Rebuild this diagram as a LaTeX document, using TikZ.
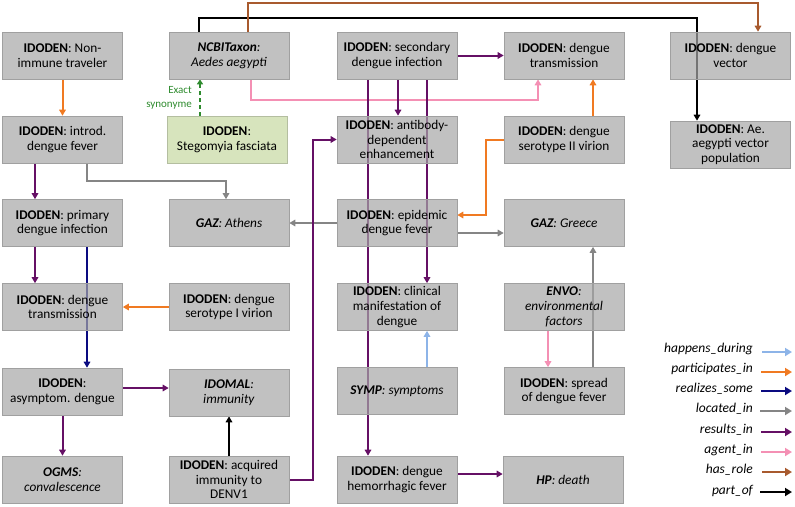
\documentclass[tikz,border=0pt]{standalone}
\usepackage{fontspec}
\setmainfont{Carlito}
\usetikzlibrary{arrows.meta}
\pgfdeclarelayer{front}
\pgfsetlayers{main,front}
\definecolor{cHap}{HTML}{8DB4E8}
\definecolor{cPar}{HTML}{F07A22}
\definecolor{cRea}{HTML}{0A0A80}
\definecolor{cLoc}{HTML}{858585}
\definecolor{cRes}{HTML}{651065}
\definecolor{cAge}{HTML}{F490B4}
\definecolor{cRol}{HTML}{A85A2E}
\definecolor{cSyn}{HTML}{2E8B2E}
\definecolor{boxfill}{HTML}{A6A6A6}
\definecolor{boxline}{HTML}{A0A0A0}
\definecolor{greenfill}{HTML}{D7E4BD}
\definecolor{greenline}{HTML}{B4BEA0}
\tikzset{
  box/.style={draw=boxline, line width=0.6pt, fill=boxfill, fill opacity=0.7, text opacity=1,
    minimum width=120pt, minimum height=47pt, inner sep=1pt, align=center,
    font=\fontsize{13.3}{14.7}\selectfont},
  gbox/.style={box, fill=greenfill, fill opacity=1, draw=greenline},
  rel/.style={line width=2pt, -{Triangle[length=6pt,width=6.5pt]}},
  hap/.style={rel, draw=cHap},
  par/.style={rel, draw=cPar},
  rea/.style={rel, draw=cRea},
  loc/.style={rel, draw=cLoc},
  res/.style={rel, draw=cRes},
  age/.style={rel, draw=cAge},
  rol/.style={rel, draw=cRol},
  prt/.style={rel, draw=black},
  syn/.style={line width=1.8pt, draw=cSyn, dash pattern=on 4pt off 3pt, -{Triangle[length=5pt,width=6pt]}},
  legtext/.style={anchor=east, inner sep=0pt, font=\fontsize{13.5}{14}\selectfont\itshape},
  legarrow/.style={line width=2.6pt, -{Triangle[length=7pt,width=8pt]}}
}
\begin{document}
\begin{tikzpicture}[x=1pt,y=-1pt]
\useasboundingbox (0,0) rectangle (795,506);
\begin{pgfonlayer}{front}
\node[box] (n11) at (62.5,55.5) {\textbf{IDODEN}: Non-\\immune traveler};
\node[box] (n12) at (229,55.5) {\textit{\textbf{NCBITaxon}:}\\\textit{Aedes aegypti}};
\node[box] (n13) at (397,55.5) {\textbf{IDODEN}: secondary\\dengue infection};
\node[box] (n14) at (564,55.5) {\textbf{IDODEN}: dengue\\transmission};
\node[box] (n15) at (730.5,55.5) {\textbf{IDODEN}: dengue\\vector};
\node[box] (n21) at (62.5,139.5) {\textbf{IDODEN}: introd.\\dengue fever};
\node[gbox] (n22) at (227,140) {\textbf{IDODEN}:\\Stegomyia fasciata};
\node[box] (n23) at (397,139.5) {\textbf{IDODEN}: antibody-\\dependent\\enhancement};
\node[box] (n24) at (564,139.5) {\textbf{IDODEN}: dengue\\serotype II virion};
\node[box] (n25) at (730.5,144.5) {\textbf{IDODEN}: Ae.\\aegypti vector\\population};
\node[box] (n31) at (62.5,223) {\textbf{IDODEN}: primary\\dengue infection};
\node[box] (n32) at (229,223) {\textit{\textbf{GAZ}: Athens}};
\node[box] (n33) at (397,223) {\textbf{IDODEN}: epidemic\\dengue fever};
\node[box] (n34) at (564,223) {\textit{\textbf{GAZ}: Greece}};
\node[box] (n41) at (62.5,307) {\textbf{IDODEN}: dengue\\transmission};
\node[box] (n42) at (229,307) {\textbf{IDODEN}: dengue\\serotype I virion};
\node[box] (n43) at (397,307) {\textbf{IDODEN}: clinical\\manifestation of\\dengue};
\node[box] (n44) at (564,307) {\textit{\textbf{ENVO}:}\\\textit{environmental}\\\textit{factors}};
\node[box] (n51) at (62.5,391.5) {\textbf{IDODEN}:\\asymptom. dengue};
\node[box] (n52) at (229,392.5) {\textit{\textbf{IDOMAL}:}\\\textit{immunity}};
\node[box] (n53) at (397,391) {\textit{\textbf{SYMP}: symptoms}};
\node[box] (n54) at (564,391) {\textbf{IDODEN}: spread\\of dengue fever};
\node[box] (n61) at (62.5,479.5) {\textit{\textbf{OGMS}:}\\\textit{convalescence}};
\node[box] (n62) at (229,479.5) {\textbf{IDODEN}: acquired\\immunity to\\DENV1};
\node[box] (n63) at (397,479.5) {\textbf{IDODEN}: dengue\\hemorrhagic fever};
\node[box] (n64) at (563,479.5) {\textit{\textbf{HP}: death}};
\end{pgfonlayer}
% helper coordinates
\coordinate (t1) at (697,18);
\coordinate (t2) at (758,3);
\coordinate (p1) at (538,100);
\coordinate (g1) at (226,181);
\coordinate (o1) at (486,215);
\coordinate (v1) at (313,139.5);
% top connectors
\draw[prt] ([xshift=-30pt]n12.north) |- (t1) -- (t1 |- n25.north);
\draw[rol] ([xshift=19pt]n12.north) |- (t2) -- (t2 |- n15.north);
\draw[age] ([xshift=22pt]n12.south) |- (p1) -- (p1 |- n14.south);
\draw[syn] ([xshift=-27pt]n22.north) -- ([xshift=-29pt]n12.south);
\node[anchor=east, align=right, text=cSyn, inner sep=0pt, font=\fontsize{11}{14.5}\selectfont] (lsyn) at (192,98) {Exact\\synonyme};
% column 1
\draw[par] (n11.south) -- (n21.north);
\draw[res] ([xshift=-27.5pt]n21.south) -- ([xshift=-27.5pt]n31.north);
\draw[loc] ([xshift=24.5pt]n21.south) |- (g1) -- (g1 |- n32.north);
\draw[res] ([xshift=-27.5pt]n31.south) -- ([xshift=-27.5pt]n41.north);
\draw[rea] ([xshift=24.5pt]n31.south) -- ([xshift=24.5pt]n51.north);
\draw[par] (n42.west) -- (n41.east);
\draw[res] ([yshift=3.5pt]n51.east) -- ([yshift=4.5pt]n52.west);
\draw[res] (n51.south) -- (n61.north);
\draw[prt] (n62.north) -- (n52.south);
% middle
\draw[loc] (n33.west) -- (n32.east);
\draw[res] (n62.east) -| (v1) -- (n23.west);
\draw[res] (n13.east) -- (n14.west);
\draw[res] ([xshift=1pt]n13.south) -- ([xshift=1pt]n23.north);
\draw[res] ([xshift=-29pt]n13.south) -- ([xshift=-29pt]n63.north);
\draw[res] ([xshift=30pt]n13.south) -- ([xshift=30pt]n43.north);
\draw[par] (n24.west) -| (o1) -- (o1 -| n33.east);
\draw[par] ([xshift=29pt]n24.north) -- ([xshift=29pt]n14.south);
\draw[loc] ([yshift=-10pt]n33.east) -- ([yshift=-10pt]n34.west);
\draw[loc] ([xshift=29pt]n54.north) -- ([xshift=29pt]n34.south);
\draw[age] ([xshift=-16pt]n44.south) -- ([xshift=-16pt]n54.north);
\draw[hap] ([xshift=30pt]n53.north) -- ([xshift=30pt]n43.south);
\draw[res] ([yshift=5.5pt]n63.east) -- ([yshift=5.5pt]n64.west);
% legend
\node[legtext] (l1) at (753,349) {happens\_during};
\node[legtext] (l2) at (753,369) {participates\_in};
\node[legtext] (l3) at (753,389) {realizes\_some};
\node[legtext] (l4) at (753,409) {located\_in};
\node[legtext] (l5) at (753,430) {results\_in};
\node[legtext] (l6) at (753,450) {agent\_in};
\node[legtext] (l7) at (753,470) {has\_role};
\node[legtext] (l8) at (753,491) {part\_of};
\coordinate (e1) at (762,352); \coordinate (f1) at (792,352);
\coordinate (e2) at (761,372); \coordinate (f2) at (792,372);
\coordinate (e3) at (761,391); \coordinate (f3) at (792,391);
\coordinate (e4) at (760,411); \coordinate (f4) at (792,411);
\coordinate (e5) at (761,432); \coordinate (f5) at (792,432);
\coordinate (e6) at (761,452); \coordinate (f6) at (792,452);
\coordinate (e7) at (762,472); \coordinate (f7) at (792,472);
\coordinate (e8) at (760,492); \coordinate (f8) at (792,492);
\draw[legarrow, draw=cHap] (e1) -- (f1);
\draw[legarrow, draw=cPar] (e2) -- (f2);
\draw[legarrow, draw=cRea] (e3) -- (f3);
\draw[legarrow, draw=cLoc] (e4) -- (f4);
\draw[legarrow, draw=cRes] (e5) -- (f5);
\draw[legarrow, draw=cAge] (e6) -- (f6);
\draw[legarrow, draw=cRol] (e7) -- (f7);
\draw[legarrow, draw=black] (e8) -- (f8);
\end{tikzpicture}
\end{document}
